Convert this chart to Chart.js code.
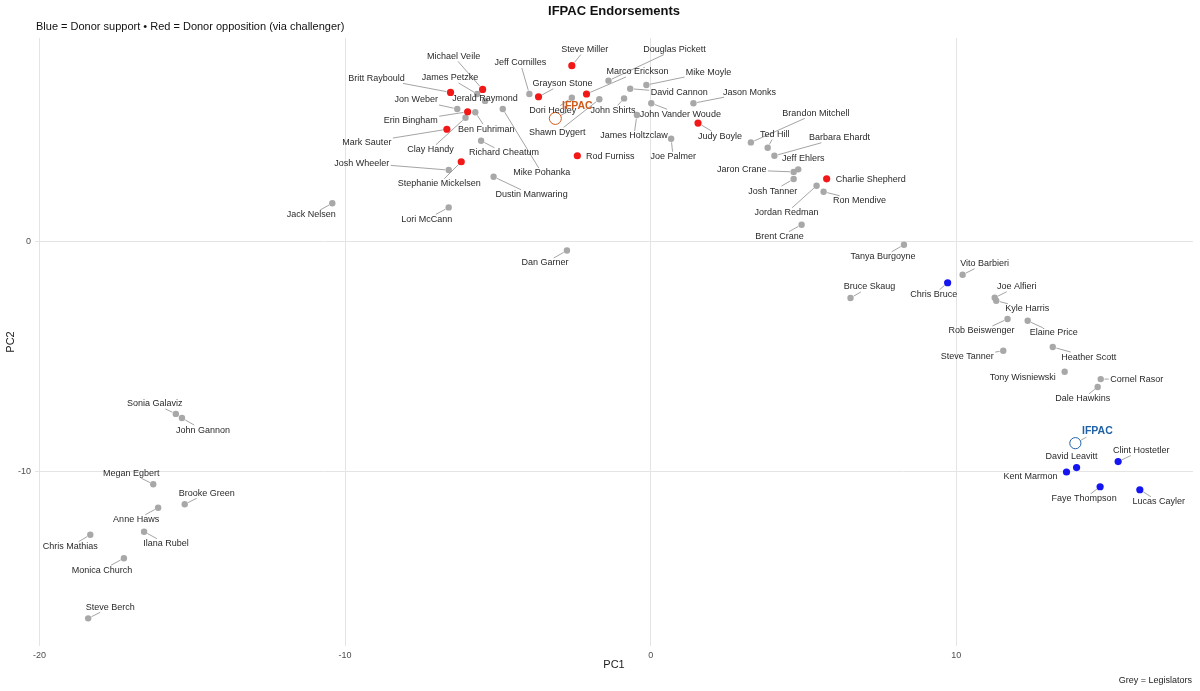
<!DOCTYPE html>
<html><head><meta charset="utf-8">
<script src="https://cdn.jsdelivr.net/npm/chart.js@4.4.1/dist/chart.umd.min.js"></script>
<style>html,body{margin:0;padding:0;background:#fff}canvas{display:block}</style>
</head><body>
<canvas id="c" width="1200" height="691"></canvas>
<script>
// ---------------- data ----------------
const names = ["Jack Nelsen","Britt Raybould","Michael Veile","James Petzke","Jon Weber","Jerald Raymond","Erin Bingham","Ben Fuhriman","Clay Handy","Mark Sauter","Richard Cheatum","Josh Wheeler","Stephanie Mickelsen","Dustin Manwaring","Lori McCann","Mike Pohanka","Jeff Cornilles","Grayson Stone","Steve Miller","Dori Hedley","Marco Erickson","Douglas Pickett","Shawn Dygert","John Shirts","Mike Moyle","David Cannon","John Vander Woude","James Holtzclaw","Joe Palmer","Jason Monks","Judy Boyle","Rod Furniss","Dan Garner","Brandon Mitchell","Ted Hill","Barbara Ehardt","Jeff Ehlers","Jaron Crane","Josh Tanner","Charlie Shepherd","Ron Mendive","Jordan Redman","Brent Crane","Tanya Burgoyne","Vito Barbieri","Chris Bruce","Bruce Skaug","Joe Alfieri","Kyle Harris","Rob Beiswenger","Elaine Price","Steve Tanner","Heather Scott","Tony Wisniewski","Cornel Rasor","Dale Hawkins","David Leavitt","Kent Marmon","Clint Hostetler","Faye Thompson","Lucas Cayler","Sonia Galaviz","John Gannon","Megan Egbert","Brooke Green","Anne Haws","Ilana Rubel","Chris Mathias","Monica Church","Steve Berch"];
const pc1 = [-10.42,-6.55,-5.50,-5.68,-6.33,-5.42,-5.99,-5.74,-6.06,-6.67,-5.55,-6.61,-6.20,-5.14,-6.61,-4.84,-3.97,-3.67,-2.58,-2.58,-2.10,-1.38,-1.68,-0.87,-0.14,-0.67,0.02,-0.45,0.67,1.40,1.55,-2.40,-2.74,3.28,3.83,4.05,4.83,4.68,4.68,5.76,5.66,5.43,4.94,8.29,10.21,9.72,6.54,11.26,11.31,11.68,12.34,11.54,13.16,13.55,14.73,14.63,13.94,13.61,15.30,14.71,16.01,-15.54,-15.34,-16.28,-15.25,-16.12,-16.58,-18.34,-17.24,-18.41];
const pc2 = [1.66,6.47,6.60,6.40,5.75,6.10,5.63,5.61,5.37,4.87,4.37,3.10,3.46,2.81,1.48,5.75,6.40,6.28,7.63,6.24,6.40,6.98,6.17,6.21,6.79,6.63,6.00,5.49,4.46,6.00,5.14,3.72,-0.39,4.30,4.07,3.72,3.13,3.02,2.71,2.72,2.16,2.42,0.73,-0.14,-1.44,-1.79,-2.45,-2.44,-2.57,-3.36,-3.44,-4.74,-4.58,-5.65,-5.97,-6.31,-9.81,-10.00,-9.55,-10.64,-10.77,-7.48,-7.66,-10.53,-11.40,-11.55,-12.59,-12.72,-13.74,-16.35];
// 'grey' = legislator, 'oppose' = donor opposition (via challenger), 'support' = donor support
const stance = ["grey","oppose","oppose","grey","grey","grey","oppose","grey","grey","oppose","grey","grey","oppose","grey","grey","grey","grey","oppose","oppose","grey","oppose","grey","grey","grey","grey","grey","grey","grey","grey","grey","oppose","oppose","grey","grey","grey","grey","grey","grey","grey","oppose","grey","grey","grey","grey","grey","support","grey","grey","grey","grey","grey","grey","grey","grey","grey","grey","support","support","support","support","support","grey","grey","grey","grey","grey","grey","grey","grey","grey"];
const ifpacNames = ["IFPAC","IFPAC"];
const ifpacPc1 = [-3.12, 13.90];
const ifpacPc2 = [5.34, -8.75];
const ifpacStance = ["oppose","support"];
const xTicks = [-20,-10,0,10];
const yTicks = [-10,0];

// ---------------- label layout (pixel nudges, repel-style) ----------------
const labelNudge = [[-21,11.7],[-74,-14],[-29,-33],[-27,-16],[-41,-9],[0,-2.5],[-57,9],[11,17],[-35,32],[-80,13],[23,12],[-87,-7],[-22,22],[38,18],[-22,12],[39,64],[-9,-31],[24,-13],[13,-16],[-19,13],[51,-22],[66,-31],[-42,33],[-11,12],[62,-13],[49,4],[29,11],[-3,21],[2,18],[56,-11],[22,13],[33,1],[-22,12.5],[65,-29],[7,-13],[65,-18],[5,-11],[-52,-2],[-21,12],[44,1],[36,9],[-30,27],[-22,12],[-21,12],[22,-11],[-14,12],[19,-11],[22,-11],[31,8],[-26,12],[26,12],[-36,6],[36,10],[-42,6],[36,0],[-15,12],[-5,-11],[-36,5],[23,-11],[-16,12],[19,12],[-21,-10],[21,12],[-22,-11],[22,-11],[-22,12],[22,12],[-20,12],[-22,12],[22,-11]];
const ifpacNudge = [[22,-12],[22,-12]];

const FONT = '"Liberation Sans", Arial, Helvetica, sans-serif';
const COL = {grey:'#a8a8a8', oppose:'#f31818', support:'#1515f2'};
const IFPAC_COL = {oppose:'#cf5b1c', support:'#1f62a6'};

function pts(group){
  const out=[];
  names.forEach((n,i)=>{ if(stance[i]===group) out.push({x:pc1[i], y:pc2[i]}); });
  return out;
}

const labelPlugin = {
  id:'repelLabels',
  afterDatasetsDraw(chart){
    const ctx = chart.ctx, xs = chart.scales.x, ys = chart.scales.y;
    const items = [];
    names.forEach((n,i)=>{
      const px = xs.getPixelForValue(pc1[i]), py = ys.getPixelForValue(pc2[i]);
      items.push({text:n, px, py, lx:px+labelNudge[i][0], ly:py+labelNudge[i][1],
        r: stance[i]==='grey'?3.2:3.6, font:'9px '+FONT, color:'#2a2a2a', hh:5});
    });
    ifpacNames.forEach((n,i)=>{
      const px = xs.getPixelForValue(ifpacPc1[i]), py = ys.getPixelForValue(ifpacPc2[i]);
      items.push({text:n, px, py, lx:px+ifpacNudge[i][0], ly:py+ifpacNudge[i][1],
        r: 6, font:'bold 10.5px '+FONT, color:IFPAC_COL[ifpacStance[i]], hh:6});
    });
    ctx.save();
    // segments
    ctx.strokeStyle = '#9a9a9a';
    ctx.lineWidth = 0.9;
    items.forEach(it=>{
      ctx.font = it.font;
      const hw = ctx.measureText(it.text).width/2 + 1.5;
      const hh = it.hh;
      const vx = it.px - it.lx, vy = it.py - it.ly;
      if (Math.abs(vx) <= hw && Math.abs(vy) <= hh) return;
      const t = Math.min(vx!==0 ? hw/Math.abs(vx) : Infinity, vy!==0 ? hh/Math.abs(vy) : Infinity);
      const ex = it.lx + vx*t, ey = it.ly + vy*t;
      const d = Math.hypot(vx, vy);
      const sx = it.px - vx/d*(it.r+0.5), sy = it.py - vy/d*(it.r+0.5);
      if (Math.hypot(sx-ex, sy-ey) < 4) return;
      ctx.beginPath(); ctx.moveTo(sx, sy); ctx.lineTo(ex, ey); ctx.stroke();
    });
    // text
    ctx.textAlign = 'center';
    ctx.textBaseline = 'middle';
    items.forEach(it=>{
      ctx.font = it.font;
      ctx.fillStyle = it.color;
      ctx.fillText(it.text, it.lx, it.ly);
    });
    ctx.restore();
  }
};

const textPlugin = {
  id:'titles',
  afterDraw(chart){
    const ctx = chart.ctx, ca = chart.chartArea;
    ctx.save();
    ctx.fillStyle = '#111';
    ctx.textBaseline = 'middle';
    ctx.font = 'bold 13px '+FONT;
    ctx.textAlign = 'center';
    ctx.fillText('IFPAC Endorsements', (ca.left+ca.right)/2, 11);
    ctx.font = '11px '+FONT;
    ctx.textAlign = 'left';
    ctx.fillText('Blue = Donor support \u2022 Red = Donor opposition (via challenger)', ca.left+1, 27);
    ctx.font = '9px '+FONT;
    ctx.textAlign = 'right';
    ctx.fillStyle = '#222';
    ctx.fillText('Grey = Legislators', ca.right-1, 681);
    ctx.restore();
  }
};

new Chart(document.getElementById('c'), {
  type:'scatter',
  data:{
    datasets:[
      {label:'IFPAC', data: ifpacPc1.map((v,i)=>({x:v, y:ifpacPc2[i]})),
       pointRadius:[6,5.6], pointBackgroundColor:'rgba(0,0,0,0)',
       pointBorderColor: ifpacStance.map(s=>IFPAC_COL[s]), pointBorderWidth:1, order:1},
      {label:'Donor opposition', data: pts('oppose'), pointRadius:3.6,
       pointBackgroundColor:COL.oppose, pointBorderWidth:0, order:2},
      {label:'Donor support', data: pts('support'), pointRadius:3.6,
       pointBackgroundColor:COL.support, pointBorderWidth:0, order:2},
      {label:'Legislators', data: pts('grey'), pointRadius:3.2,
       pointBackgroundColor:COL.grey, pointBorderWidth:0, order:3}
    ]
  },
  options:{
    responsive:false, animation:false, devicePixelRatio:1,
    layout:{padding:{top:38, right:5, left:0, bottom:0}},
    plugins:{legend:{display:false}, tooltip:{enabled:false}, title:{display:false}},
    scales:{
      x:{type:'linear', min:-20.15, max:17.75,
         afterBuildTicks:s=>{ s.ticks = xTicks.map(v=>({value:v})); },
         afterFit:s=>{ s.height = 45; },
         grid:{color:'#e4e4e4', lineWidth:1, drawTicks:false},
         border:{display:false},
         ticks:{padding:4, color:'#4d4d4d', font:{size:9, family:FONT}},
         title:{display:true, text:'PC1', color:'#1a1a1a', font:{size:11, family:FONT}, padding:{top:0, bottom:19}}},
      y:{type:'linear', min:-17.55, max:8.83,
         afterBuildTicks:s=>{ s.ticks = yTicks.map(v=>({value:v})); },
         afterFit:s=>{ s.width = 35; },
         grid:{color:'#e4e4e4', lineWidth:1, drawTicks:false},
         border:{display:false},
         ticks:{padding:4, color:'#4d4d4d', font:{size:9, family:FONT}},
         title:{display:true, text:'PC2', color:'#1a1a1a', font:{size:11, family:FONT}, padding:{top:4, bottom:0}}}
    }
  },
  plugins:[labelPlugin, textPlugin]
});
</script>
</body></html>
